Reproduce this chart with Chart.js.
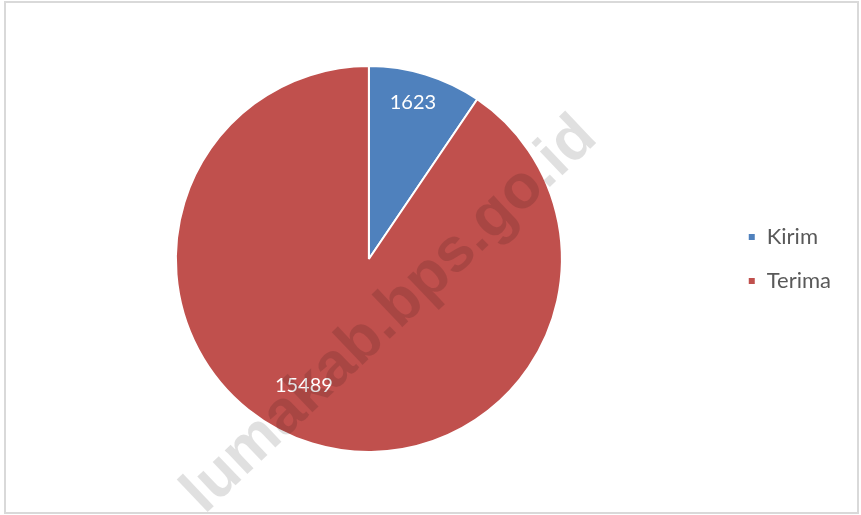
<!DOCTYPE html>
<html>
<head>
<meta charset="utf-8">
<script src="https://cdn.jsdelivr.net/npm/chart.js@4.4.1/dist/chart.umd.min.js"></script>
<style>
  html, body { margin: 0; padding: 0; background: #ffffff; }
  #wrap { position: relative; width: 861px; height: 515px; overflow: hidden; }
  #frame { position: absolute; left: 4px; top: 1px; width: 851px; height: 509px; border: 2px solid #d9d9d9; box-sizing: content-box; pointer-events: none; }
  #wm { position: absolute; left: 387px; top: 312px; transform: translate(-50%, -50%) rotate(-43.5deg);
        font-family: "Liberation Sans", Arial, sans-serif; font-weight: bold; font-size: 62px;
        color: rgba(0,0,0,0.12); white-space: nowrap; pointer-events: none; }
  canvas { position: absolute; left: 0; top: 0; }
</style>
</head>
<body>
<div id="wrap">
  <canvas id="c" width="861" height="515"></canvas>
  <div id="wm">lumakab.bps.go.id</div>
  <div id="frame"></div>
</div>
<script>
const categories = ["Kirim", "Terima"];
const values = [1623, 15489];
const colors = ["#4F81BD", "#C0504D"];

// label placement (fraction of radius, angular shift in degrees) per slice
const labelPlacement = [
  { frac: 0.84, shift: -1.3 },
  { frac: 0.735, shift: 10.2 }
];

const labelPlugin = {
  id: 'sliceLabels',
  afterDatasetsDraw(chart) {
    const ctx = chart.ctx;
    const meta = chart.getDatasetMeta(0);
    ctx.save();
    ctx.font = '20px Lato, "Open Sans", sans-serif';
    ctx.fillStyle = '#ffffff';
    ctx.textAlign = 'center';
    ctx.textBaseline = 'middle';
    meta.data.forEach((arc, i) => {
      const p = arc.getProps(['x', 'y', 'startAngle', 'endAngle', 'outerRadius'], true);
      const pl = labelPlacement[i];
      const mid = (p.startAngle + p.endAngle) / 2 + pl.shift * Math.PI / 180;
      const r = p.outerRadius * pl.frac;
      ctx.fillText(String(chart.data.datasets[0].data[i]), p.x + Math.cos(mid) * r, p.y + Math.sin(mid) * r);
    });
    ctx.restore();
  }
};

new Chart(document.getElementById('c'), {
  type: 'pie',
  data: {
    labels: categories,
    datasets: [{
      data: values,
      backgroundColor: colors,
      borderColor: '#ffffff',
      borderWidth: 2,
      hoverOffset: 0,
      offset: 0
    }]
  },
  options: {
    responsive: false,
    animation: false,
    radius: 193,
    layout: { padding: { left: 12, right: 20, top: 66, bottom: 63 } },
    plugins: {
      legend: {
        position: 'right',
        labels: {
          boxWidth: 8,
          boxHeight: 8,
          padding: 22,
          color: '#595959',
          font: { family: 'Lato, "Open Sans", sans-serif', size: 22 }
        }
      },
      tooltip: { enabled: false }
    }
  },
  plugins: [labelPlugin]
});
</script>
</body>
</html>
